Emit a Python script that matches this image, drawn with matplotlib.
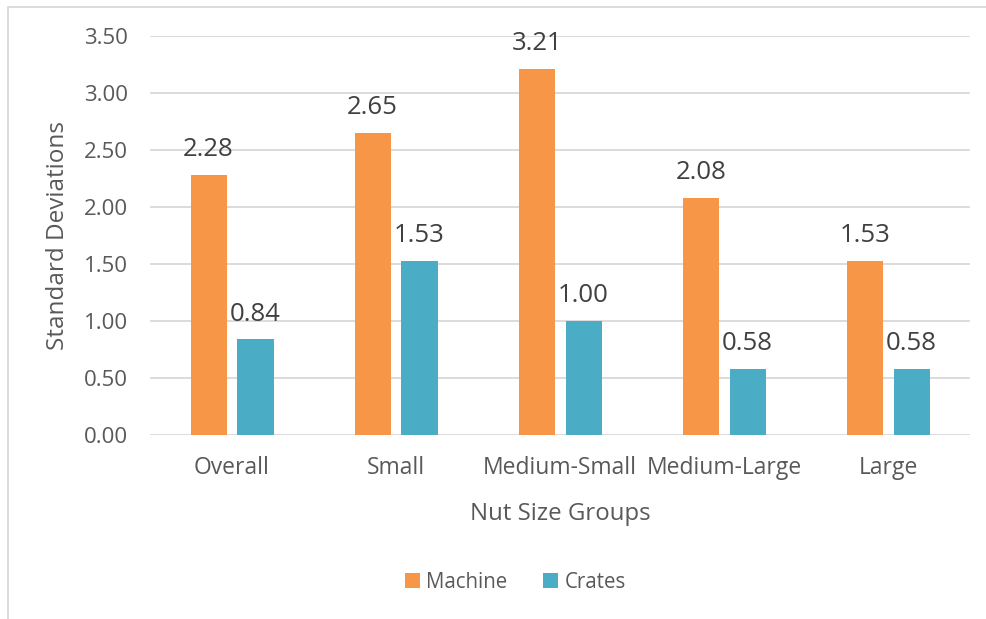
import matplotlib.pyplot as plt
import matplotlib.patches as mpatches
import numpy as np

plt.rcParams['font.family'] = ['Open Sans', 'DejaVu Sans']

# dati
gruppi = ["Overall", "Small", "Medium-Small", "Medium-Large", "Large"]
machine = [2.28, 2.65, 3.21, 2.08, 1.53]
crates = [0.84, 1.53, 1.00, 0.58, 0.58]

col_machine = "#F79646"
col_crates = "#4BACC6"
grigio = "#595959"

fig = plt.figure(figsize=(9.87, 6.19), dpi=100)
ax = fig.add_axes([0.152, 0.297, 0.831, 0.645])

x = np.arange(len(gruppi))
w = 0.22
off = 0.143
b1 = ax.bar(x - off, machine, w, color=col_machine, label="Machine", zorder=3)
b2 = ax.bar(x + off, crates, w, color=col_crates, label="Crates", zorder=3)

# etichette dei valori
for bars in (b1, b2):
    for r in bars:
        h = r.get_height()
        ax.text(r.get_x() + r.get_width()/2, h + 0.165, "%.2f" % h,
                ha='center', va='baseline', fontsize=18.5, color="#404040")

ax.set_xlim(-0.5, len(gruppi) - 0.5)
ax.set_ylim(0, 3.5)
ax.set_yticks(np.arange(0, 3.51, 0.5))
ax.set_yticklabels(["%.2f" % v for v in np.arange(0, 3.51, 0.5)])
ax.set_xticks(x)
ax.set_xticklabels(gruppi)
ax.tick_params(axis='both', length=0, colors=grigio)
ax.tick_params(axis='y', pad=16, labelsize=16)
ax.tick_params(axis='x', pad=15, labelsize=16.5)

ax.grid(axis='y', color="#D9D9D9", linewidth=1.3, zorder=0)
for s in ax.spines.values():
    s.set_visible(False)

ax.set_ylabel("Standard Deviations", fontsize=17.5, color=grigio, labelpad=10)
ax.set_xlabel("Nut Size Groups", fontsize=17.3, color=grigio, labelpad=16)

fig.legend(handles=[b1, b2], loc='center', bbox_to_anchor=(0.522, 0.059),
           ncol=2, frameon=False, fontsize=14.8, labelcolor=grigio,
           handlelength=0.75, handleheight=0.75, handletextpad=0.3, columnspacing=1.7)

# bordo del grafico
fig.patches.append(mpatches.Rectangle((8/987, -0.05), 1.1, 1 - 7/619 + 0.05,
                   transform=fig.transFigure, fill=False, edgecolor="#D9D9D9",
                   linewidth=1.3))

fig.savefig("out.png", dpi=100)
